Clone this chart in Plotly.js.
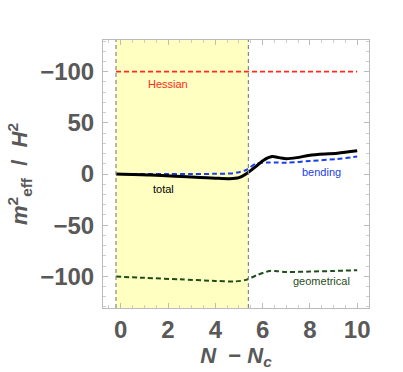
<!DOCTYPE html>
<html>
<head>
<meta charset="utf-8">
<script src="https://cdn.plot.ly/plotly-3.0.1.min.js"></script>
<style>html,body{margin:0;padding:0;background:#fff}#chart{width:403px;height:372px}</style>
</head>
<body>
<div id="chart"></div>
<script>
// Data
const xTotal = [-0.2, 1.24, 2.3, 3.36, 4.0, 4.6, 5.0, 5.3, 5.7, 6.04, 6.4, 6.7, 7.0, 7.45, 8.0, 9.16, 10];
const yTotal = [0, -1, -2.2, -3.3, -4.1, -4.6, -3.6, 0, 7, 13.5, 17, 16, 15, 16, 18.3, 20.3, 22.7];

const xBending = [-0.2, 1, 2, 3, 4, 4.7, 5.0, 5.3, 5.7, 6.2, 6.6, 7.0, 8.0, 9.16, 10];
const yBending = [0, 0, 0, 0, 0.2, 0.6, 1.8, 3.9, 9.8, 11.2, 11.3, 11, 12.7, 14.7, 17];

const xGeom = [-0.2, 1, 2.5, 4, 4.85, 5.3, 5.75, 6.3, 6.6, 7.0, 8.0, 9, 10];
const yGeom = [-100.3, -101.5, -103, -104.5, -105, -103.5, -99, -94.8, -95, -95.8, -95.4, -94.8, -94.1];

const xHessian = [-0.2, 10];
const yHessian = [100, 100];

const yTickVals = [100, 50, 0, -50, -100];
const yTickText = ["\u2212100", "50", "0", "\u221250", "\u2212100"];
const xTickVals = [0, 2, 4, 6, 8, 10];

const shadeStart = -0.2, shadeEnd = 5.4;

const traces = [
  {x: xHessian, y: yHessian, mode: 'lines', line: {color: '#ff2a1a', width: 1.8, dash: '5px,3px'}},
  {x: xGeom, y: yGeom, mode: 'lines', line: {color: '#1f4d1a', width: 2, dash: '5px,3px', shape: 'spline', smoothing: 0.8}},
  {x: xBending, y: yBending, mode: 'lines', line: {color: '#1a3ee8', width: 2, dash: '5px,3px', shape: 'spline', smoothing: 0.8}},
  {x: xTotal, y: yTotal, mode: 'lines', line: {color: '#000', width: 3, shape: 'spline', smoothing: 0.8}}
];

const tickFont = {family: 'Liberation Sans, Arial, sans-serif', size: 24, color: '#595959', weight: 'bold'};
const annFont = {family: 'Liberation Sans, Arial, sans-serif', size: 11};

const layout = {
  width: 403, height: 372,
  margin: {l: 103, r: 34, t: 40, b: 64},
  paper_bgcolor: '#fff', plot_bgcolor: '#fff',
  showlegend: false,
  xaxis: {
    range: [-0.75, 10.5], tickvals: xTickVals, ticks: 'inside', ticklen: 5, tickcolor: '#bbb',
    minor: {dtick: 0.5, ticks: 'inside', ticklen: 3, tickcolor: '#ccc'},
    showgrid: false, zeroline: false, showline: true, linecolor: '#bbb', linewidth: 1, mirror: 'ticks',
    tickfont: tickFont,
    title: {text: '<i>N</i>  \u2212 <i>N</i><sub><i>c</i></sub>', font: {family: 'Liberation Sans, Arial, sans-serif', size: 22, color: '#595959', weight: 'bold'}, standoff: 4}
  },
  yaxis: {
    range: [-131, 131], tickvals: yTickVals, ticktext: yTickText, ticks: 'inside', ticklen: 5, tickcolor: '#bbb',
    minor: {dtick: 10, ticks: 'inside', ticklen: 3, tickcolor: '#ccc'},
    showgrid: false, zeroline: false, showline: true, linecolor: '#bbb', linewidth: 1, mirror: 'ticks',
    tickfont: tickFont, ticklabelstandoff: 3,
    title: {text: '<i>m</i><sup>2</sup><sub>eff</sub>  /  <i>H</i><sup>2</sup>', font: {family: 'Liberation Sans, Arial, sans-serif', size: 22, color: '#595959', weight: 'bold'}, standoff: 6}
  },
  shapes: [
    {type: 'rect', xref: 'x', yref: 'paper', x0: shadeStart, x1: shadeEnd, y0: 0, y1: 1, fillcolor: '#ffffc2', line: {width: 0}, layer: 'below'},
    {type: 'line', xref: 'x', yref: 'paper', x0: shadeStart, x1: shadeStart, y0: 0, y1: 1, line: {color: '#888', width: 1.2, dash: '4px,3px'}, layer: 'above'},
    {type: 'line', xref: 'x', yref: 'paper', x0: shadeEnd, x1: shadeEnd, y0: 0, y1: 1, line: {color: '#888', width: 1.2, dash: '4px,3px'}, layer: 'above'}
  ],
  annotations: [
    {x: 2.0, y: 88, text: 'Hessian', showarrow: false, font: Object.assign({}, annFont, {color: '#ff2a1a'})},
    {x: 1.8, y: -15, text: 'total', showarrow: false, font: Object.assign({}, annFont, {color: '#000'})},
    {x: 8.5, y: 2.3, text: 'bending', showarrow: false, font: Object.assign({}, annFont, {color: '#1a3ee8'})},
    {x: 8.5, y: -105, text: 'geometrical', showarrow: false, font: Object.assign({}, annFont, {color: '#1f4d1a'})}
  ]
};

Plotly.newPlot('chart', traces, layout, {displayModeBar: false, staticPlot: true});
</script>
</body>
</html>
